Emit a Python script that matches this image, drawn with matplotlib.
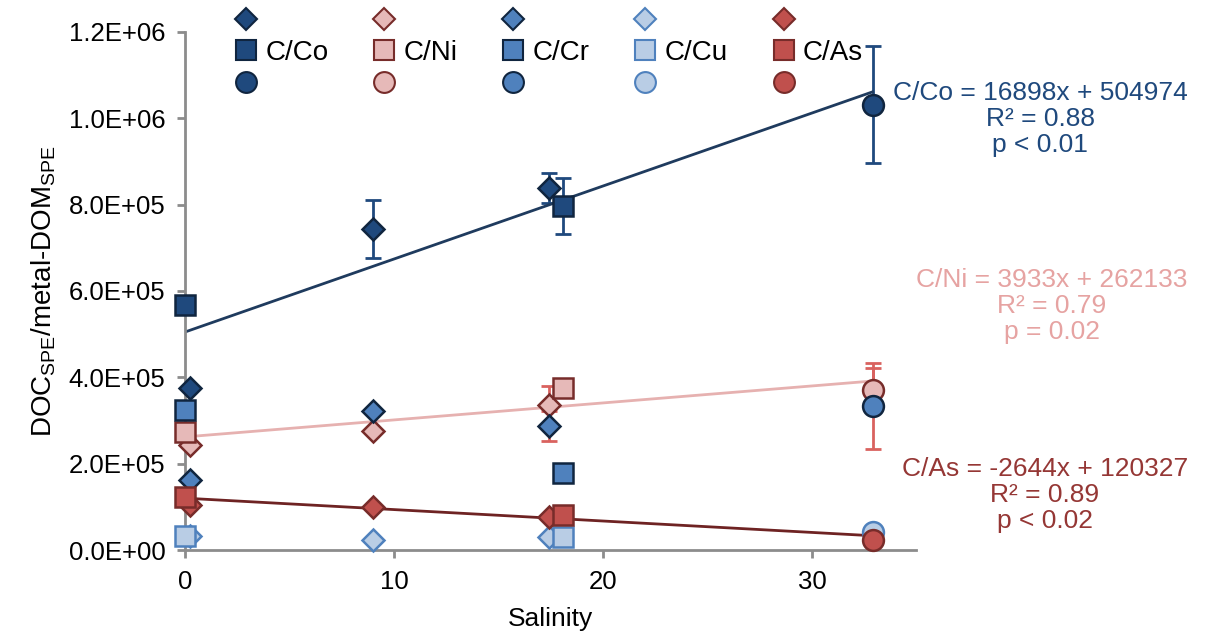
import numpy as np
import matplotlib.pyplot as plt
from matplotlib.lines import Line2D
from matplotlib.ticker import FuncFormatter, MultipleLocator

plt.rcParams["font.family"] = ["Liberation Sans", "DejaVu Sans"]

METALS = ["C/Co", "C/Ni", "C/Cr", "C/Cu", "C/As"]

# salinity of each sample set (diamonds, squares, circles)
sal_diamond = [0.25, 9.0, 17.4]
sal_square = [0.0, 18.1]
sal_circle = [32.9]

# DOC_SPE / metal-DOM_SPE ratios
diamond_vals = {
    "C/Co": [375000, 744000, 838000],
    "C/Ni": [243000, 276000, 336000],
    "C/Cr": [162000, 322000, 287000],
    "C/Cu": [33000, 23000, 30000],
    "C/As": [104000, 100000, 77000],
}
square_vals = {
    "C/Co": [567000, 797000],
    "C/Ni": [273000, 375000],
    "C/Cr": [324000, 178000],
    "C/Cu": [32000, 30000],
    "C/As": [124000, 81000],
}
circle_vals = {
    "C/Co": [1031000],
    "C/Ni": [371000],
    "C/Cr": [334000],
    "C/Cu": [42000],
    "C/As": [23000],
}

# standard deviations (0 = no bar shown)
diamond_err = {
    "C/Co": [0, 67000, 35000],
    "C/Ni": [0, 0, 44000],
    "C/Cr": [0, 0, 35000],
}
square_err = {"C/Co": [0, 64000]}
circle_err = {"C/Co": [135000], "C/Ni": [51000], "C/Cr": [100000]}

# linear fits: slope, intercept, R2, p text
fits = {
    "C/Co": (16898, 504974, "0.88", "p < 0.01"),
    "C/Ni": (3933, 262133, "0.79", "p = 0.02"),
    "C/As": (-2644, 120327, "0.89", "p < 0.02"),
}
fit_range = [0.0, 32.9]

FILL = {
    "C/Co": "#1f497d",
    "C/Ni": "#e6b9b8",
    "C/Cr": "#4f81bd",
    "C/Cu": "#b9cde5",
    "C/As": "#c0504d",
}
EDGE = {
    "C/Co": "#10253f",
    "C/Ni": "#772c2a",
    "C/Cr": "#10253f",
    "C/Cu": "#4f81bd",
    "C/As": "#772c2a",
}
ERR_COLOR = {"C/Co": "#1f497d", "C/Ni": "#d9625f", "C/Cr": "#d9625f"}
LINE_COLOR = {"C/Co": "#1f3b5e", "C/Ni": "#e6b1b0", "C/As": "#6e2323"}
TEXT_COLOR = {"C/Co": "#1f497d", "C/Ni": "#e6a3a2", "C/As": "#953735"}

fig = plt.figure(figsize=(12.09, 6.36), dpi=100)
ax = fig.add_axes([0.153, 0.135, 0.605, 0.815])

# error bars first so markers sit on top
for xs, errs, vals in [(sal_diamond, diamond_err, diamond_vals),
                       (sal_square, square_err, square_vals),
                       (sal_circle, circle_err, circle_vals)]:
    for m, e in errs.items():
        e = np.array(e, dtype=float)
        keep = e > 0
        ax.errorbar(np.array(xs)[keep], np.array(vals[m])[keep], yerr=e[keep],
                    fmt="none", ecolor=ERR_COLOR[m], elinewidth=2, capsize=6,
                    capthick=2, zorder=2)

# trend lines
xf = np.array(fit_range)
for m, (a, b, r2, p) in fits.items():
    ax.plot(xf, a * xf + b, color=LINE_COLOR[m], lw=2, zorder=2.5)

for m in METALS:
    ax.plot(sal_diamond, diamond_vals[m], ls="none", marker="D", ms=11.5,
            mfc=FILL[m], mec=EDGE[m], mew=1.8, zorder=3, clip_on=False)
    ax.plot(sal_square, square_vals[m], ls="none", marker="s", ms=15,
            mfc=FILL[m], mec=EDGE[m], mew=1.8, zorder=3, clip_on=False)
    ax.plot(sal_circle, circle_vals[m], ls="none", marker="o", ms=15,
            mfc=FILL[m], mec=EDGE[m], mew=1.8, zorder=3, clip_on=False)

# legend: one column per ratio, diamond / square / circle
handles, labels = [], []
for m in METALS:
    for mk, ms, lab in [("D", 11.5, ""), ("s", 15, m), ("o", 15, "")]:
        handles.append(Line2D([], [], ls="none", marker=mk, ms=ms,
                              mfc=FILL[m], mec=EDGE[m], mew=1.5))
        labels.append(lab)
ax.legend(handles, labels, ncol=5, loc="upper left",
          bbox_to_anchor=(0.061, 1.045), frameon=False, fontsize=20,
          handletextpad=0.1, columnspacing=1.4, labelspacing=0.2,
          handlelength=1.2, borderpad=0, borderaxespad=0)

# fit equations
text_pos = {"C/Co": (1040, 119), "C/Ni": (1052, 306), "C/As": (1045, 495)}
for m, (a, b, r2, p) in fits.items():
    eq = f"{m} = {a}x + {b}\nR² = {r2}\n{p}"
    px, py = text_pos[m]
    fig.text(px / 1209, 1 - py / 636, eq, ha="center", va="center",
             color=TEXT_COLOR[m], fontsize=19, linespacing=1.08)

ax.set_xlim(0, 35)
ax.set_ylim(0, 1.2e6)
ax.xaxis.set_major_locator(MultipleLocator(10))
ax.yaxis.set_major_locator(MultipleLocator(2e5))
ax.yaxis.set_major_formatter(FuncFormatter(lambda v, pos: f"{v:.1E}"))

for s in ["top", "right"]:
    ax.spines[s].set_visible(False)
for s in ["left", "bottom"]:
    ax.spines[s].set_color("#8c8c8c")
    ax.spines[s].set_linewidth(2)
ax.tick_params(colors="#8c8c8c", width=2, length=6, labelsize=18.5,
               labelcolor="black", direction="out", pad=8)

ax.set_xlabel("Salinity", fontsize=19, labelpad=10)
ax.set_ylabel("DOC$_{\\mathregular{SPE}}$/metal-DOM$_{\\mathregular{SPE}}$",
              fontsize=20, labelpad=8)

fig.savefig("out.png", dpi=100)
